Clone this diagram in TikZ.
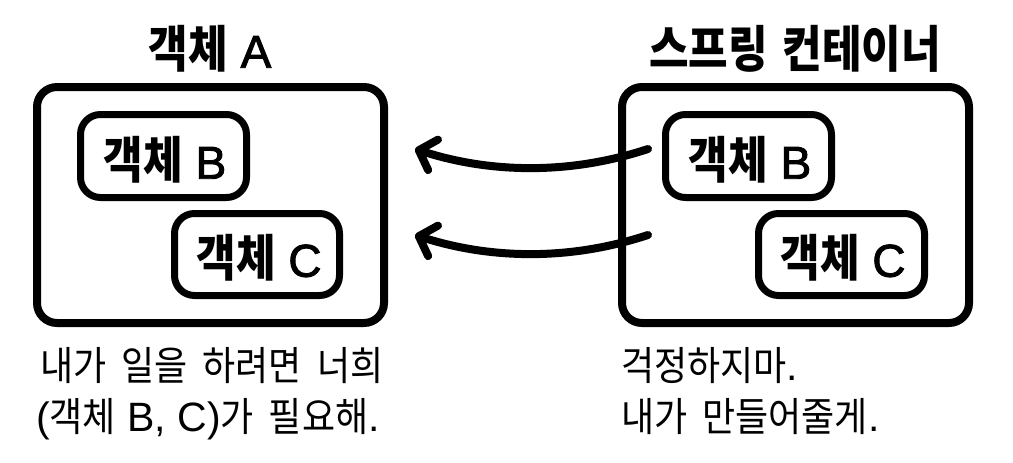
\documentclass[tikz,border=0pt]{standalone}
\usepackage{fontspec}
\usetikzlibrary{arrows.meta}
\newfontfamily\kr{Noto Sans CJK KR}[FakeStretch=0.9]
\newfontfamily\krb{Noto Sans CJK KR}[FakeStretch=0.86]
\newfontfamily\lat{Liberation Sans}
\newfontfamily\latmed{Liberation Sans}[FakeBold=2]
\newcommand\latbig[1]{{\latmed\mdseries\fontsize{46}{48}\selectfont #1}}
\newcommand\latsm[1]{{\lat\mdseries\fontsize{41}{46}\selectfont #1}}
\newcommand\kgap{\hspace{15pt}}
\begin{document}
\begin{tikzpicture}[x=1pt,y=-1pt,
  outerbox/.style={draw,line width=8pt,rounded corners=20pt},
  innerbox/.style={draw,line width=7pt,rounded corners=20pt},
  boxlabel/.style={font=\krb\bfseries\fontsize{50}{52}\selectfont,inner sep=0pt},
  note/.style={font=\kr\fontsize{40}{46}\selectfont,inner sep=0pt,anchor=base west},
  conn/.style={line width=8pt,line cap=round,-{Straight Barb[length=15pt,width=32pt,line cap=round,line join=round]}}
]
\useasboundingbox (0,0) rectangle (1013,463);
% left group
\draw[outerbox] (37,87) rectangle (384,323);
\node[boxlabel] (tA) at (210,49) {객체\latbig{ A}};
\draw[innerbox] (80.5,114.5) rectangle (246.5,197.5);
\node[boxlabel] (lB) at (165,160) {객체\latbig{ B}};
\draw[innerbox] (174.5,213.5) rectangle (339.5,295.5);
\node[boxlabel] (lC) at (259,258) {객체\latbig{ C}};
% right group
\draw[outerbox] (622,87) rectangle (969,323);
\node[boxlabel] (tS) at (795,49) {스프링\kgap 컨테이너};
\draw[innerbox] (665.5,114.5) rectangle (831.5,197.5);
\node[boxlabel] (rB) at (750,160) {객체\latbig{ B}};
\draw[innerbox] (758.5,213.5) rectangle (924.5,295.5);
\node[boxlabel] (rC) at (843,258) {객체\latbig{ C}};
% connectors
\coordinate (s1) at (648,149);
\coordinate (e1) at (415,149);
\coordinate (s2) at (648,235);
\coordinate (e2) at (415,235);
\draw[conn] (s1) .. controls (560,178) and (480,170) .. (e1);
\draw[conn] (s2) .. controls (560,264) and (480,256) .. (e2);
% notes
\node[note] (n1) at (40,380) {내가\kgap 일을\kgap 하려면\kgap 너희};
\node[note] (n2) at (36,431) {\latsm{(}객체\latsm{ B, C)}가\kgap 필요해\latsm{.}};
\node[note] (n3) at (621,380) {걱정하지마\latsm{.}};
\node[note] (n4) at (621,431) {내가\kgap 만들어줄게\latsm{.}};
\end{tikzpicture}
\end{document}
